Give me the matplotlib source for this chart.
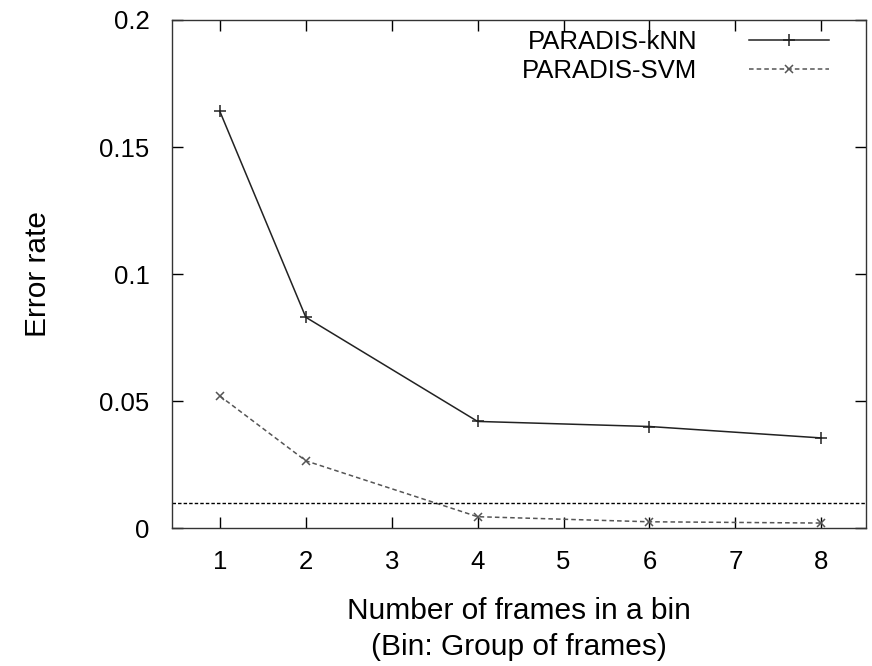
import matplotlib
matplotlib.use("Agg")
import matplotlib.pyplot as plt

plt.rcParams['font.family'] = ['Liberation Sans', 'DejaVu Sans']

# data
frames = [1, 2, 4, 6, 8]
knn_err = [0.164, 0.083, 0.042, 0.040, 0.0355]
svm_err = [0.052, 0.0265, 0.0045, 0.0025, 0.002]
threshold = 0.01

fig = plt.figure(figsize=(8.72, 6.66), dpi=100)
ax = fig.add_axes([0.197, 0.207, 0.796, 0.763])

ax.plot(frames, knn_err, color='#222222', lw=1.1, marker='+', ms=9, mew=1.1,
        label='PARADIS-kNN')
ax.plot(frames, svm_err, color='#555555', lw=1.1, ls=(0, (3, 2)), marker='x',
        ms=6, mew=1.1, label='PARADIS-SVM')
ax.axhline(threshold, color='black', lw=1, ls=(0, (2.5, 1.5)))

ax.set_xlim(0.44, 8.52)
ax.set_ylim(0, 0.2)
ax.set_xticks(range(1, 9))
ax.set_yticks([0, 0.05, 0.1, 0.15, 0.2])
ax.set_yticklabels(['0', '0.05', '0.1', '0.15', '0.2'])
ax.tick_params(direction='in', length=8, width=1, top=True, right=True,
               labelsize=18.5)
ax.tick_params(axis='x', pad=16)
ax.tick_params(axis='y', pad=16)
for s in ax.spines.values():
    s.set_linewidth(1)
    s.set_color('#333333')

ax.set_ylabel('Error rate', fontsize=21.5, labelpad=34)
ax.set_xlabel('Number of frames in a bin\n(Bin: Group of frames)', fontsize=21.5,
              linespacing=1.4, labelpad=16)

ax.legend(loc='upper right', bbox_to_anchor=(0.961, 1.0), frameon=False,
          markerfirst=False, fontsize=18.5, handlelength=3.1,
          handletextpad=2.0, labelspacing=0.2, borderaxespad=0.1,
          borderpad=0.3)

fig.savefig('out.png', dpi=100)
